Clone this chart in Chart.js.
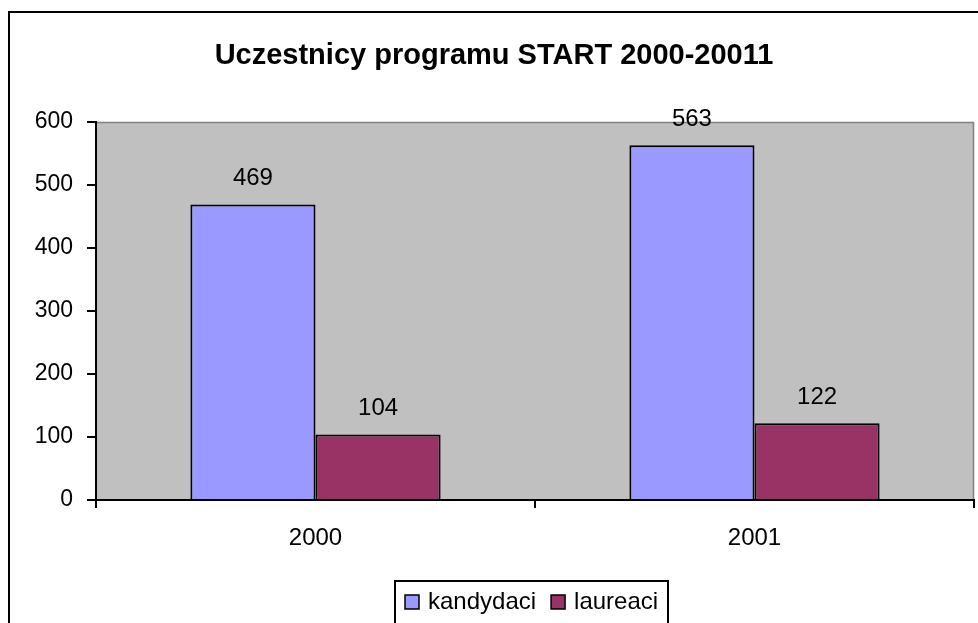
<!DOCTYPE html>
<html>
<head>
<meta charset="utf-8">
<script src="https://cdn.jsdelivr.net/npm/chart.js@4"></script>
<style>
html,body{margin:0;padding:0;background:#fff;}
#wrap{width:978px;height:623px;position:relative;}
</style>
</head>
<body>
<div id="wrap"><canvas id="c" width="978" height="623"></canvas></div>
<script>
const titleText = "Uczestnicy programu START 2000-20011";
const categories = ["2000", "2001"];
const seriesNames = ["kandydaci", "laureaci"];
const kandydaci = [469, 563];
const laureaci = [104, 122];
const seriesColors = ["#9999FF", "#993366"];
const yTicks = [0, 100, 200, 300, 400, 500, 600];

const FONT = "'Liberation Sans', Arial, sans-serif";

const framePlugin = {
  id: 'frame',
  beforeDraw(chart) {
    const ctx = chart.ctx;
    const a = chart.chartArea;
    ctx.save();
    ctx.fillStyle = '#fff';
    ctx.fillRect(0, 0, chart.width, chart.height);
    ctx.strokeStyle = '#000';
    ctx.lineWidth = 2;
    ctx.strokeRect(9, 12, chart.width + 20, chart.height + 20);
    ctx.fillStyle = '#C0C0C0';
    ctx.fillRect(a.left, a.top, a.right - a.left, a.bottom - a.top);
    ctx.strokeStyle = '#808080';
    ctx.lineWidth = 1.5;
    ctx.beginPath();
    ctx.moveTo(a.left, a.top + 0.5);
    ctx.lineTo(a.right - 0.5, a.top + 0.5);
    ctx.lineTo(a.right - 0.5, a.bottom);
    ctx.stroke();
    ctx.fillStyle = '#000';
    ctx.font = "bold 29px " + FONT;
    ctx.textAlign = 'center';
    ctx.textBaseline = 'alphabetic';
    ctx.fillText(titleText, 494, 64);
    ctx.restore();
  },
  afterDraw(chart) {
    const ctx = chart.ctx;
    ctx.save();
    ctx.strokeStyle = '#000';
    ctx.lineWidth = 2;
    ctx.strokeRect(395, 581, 273, 60);
    ctx.font = "24px " + FONT;
    ctx.textBaseline = 'middle';
    ctx.textAlign = 'left';
    let x = 405;
    seriesNames.forEach((name, i) => {
      ctx.fillStyle = seriesColors[i];
      ctx.fillRect(x, 595, 14, 14);
      ctx.lineWidth = 1.5;
      ctx.strokeStyle = '#000';
      ctx.strokeRect(x, 595, 14, 14);
      ctx.fillStyle = '#000';
      ctx.fillText(name, x + 23, 602);
      x += 23 + ctx.measureText(name).width + 15;
    });
    ctx.restore();
  },
  afterDatasetsDraw(chart) {
    const ctx = chart.ctx;
    ctx.save();
    ctx.font = "24px " + FONT;
    ctx.fillStyle = '#000';
    ctx.textAlign = 'center';
    ctx.textBaseline = 'middle';
    chart.data.datasets.forEach((ds, di) => {
      const meta = chart.getDatasetMeta(di);
      meta.data.forEach((bar, i) => {
        ctx.fillText(String(ds.data[i]), bar.x, bar.y - 26);
      });
    });
    ctx.restore();
  }
};

new Chart(document.getElementById('c'), {
  type: 'bar',
  data: {
    labels: categories,
    datasets: [
      { label: seriesNames[0], data: kandydaci, backgroundColor: seriesColors[0], borderColor: '#000', borderWidth: 2, borderSkipped: 'bottom' },
      { label: seriesNames[1], data: laureaci, backgroundColor: seriesColors[1], borderColor: '#000', borderWidth: 2, borderSkipped: 'bottom' }
    ]
  },
  options: {
    responsive: false,
    animation: false,
    devicePixelRatio: 1,
    layout: { padding: { top: 122, left: 0, right: 4, bottom: 0 } },
    datasets: { bar: { categoryPercentage: 0.57, barPercentage: 1.0 } },
    plugins: { legend: { display: false }, title: { display: false }, tooltip: { enabled: false } },
    scales: {
      x: {
        offset: true,
        grid: { display: true, drawOnChartArea: false, drawTicks: true, tickLength: 8, color: '#000', lineWidth: 2, offset: true },
        border: { display: true, color: '#000', width: 2 },
        ticks: { color: '#000', font: { family: FONT, size: 24 }, padding: 16, maxRotation: 0 },
        afterFit(scale) { scale.height = 123; }
      },
      y: {
        min: 0, max: 600,
        afterBuildTicks(scale) { scale.ticks = yTicks.map(v => ({ value: v })); },
        grid: { display: true, drawOnChartArea: false, drawTicks: true, tickLength: 9, color: '#000', lineWidth: 2 },
        border: { display: true, color: '#000', width: 2 },
        ticks: { color: '#000', font: { family: FONT, size: 23 }, padding: 14 },
        afterFit(scale) { scale.width = 96; }
      }
    }
  },
  plugins: [framePlugin]
});
</script>
</body>
</html>
